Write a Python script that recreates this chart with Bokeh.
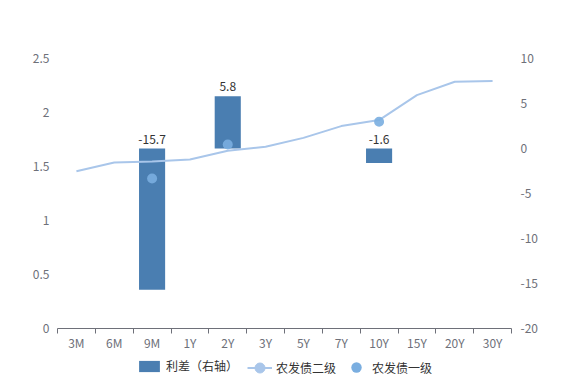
from bokeh.plotting import figure
from bokeh.layouts import column
from bokeh.models import (Range1d, LinearAxis, FixedTicker, ColumnDataSource,
                          Legend, LegendItem)
from bokeh.core.properties import value
from bokeh.embed import file_html
from bokeh.resources import INLINE

# ---- data ----
categories = ["3M", "6M", "9M", "1Y", "2Y", "3Y", "5Y", "7Y", "10Y", "15Y", "20Y", "30Y"]
level2 = [1.456, 1.537, 1.546, 1.565, 1.646, 1.682, 1.765, 1.874, 1.930, 2.161, 2.285, 2.291]
level1_cats = ["9M", "2Y", "10Y"]
level1 = [1.389, 1.704, 1.914]
spread_cats = ["9M", "2Y", "10Y"]
spread = [-15.7, 5.8, -1.6]
left_ticks = [0, 0.5, 1, 1.5, 2, 2.5]
right_ticks = [-20, -15, -10, -5, 0, 5, 10]
series_names = ["利差（右轴）", "农发债二级", "农发债一级"]

FONT = "Noto Sans CJK SC"
AXIS_C = "#6e7079"
TEXT_C = "#333333"
BAR_C = "#4a7eb1"
LINE_C = "#a9c6ea"
DOT_C = "#7aaee0"
NAN = float("nan")

pos = {c: i + 0.5 for i, c in enumerate(categories)}

p = figure(width=561, height=353, output_backend="svg", toolbar_location=None,
           x_range=Range1d(0, len(categories)), y_range=Range1d(0, 2.5),
           min_border_left=57, min_border_right=50, min_border_top=58, min_border_bottom=25)
p.outline_line_color = None
p.xgrid.visible = False
p.ygrid.visible = False
p.extra_y_ranges = {"right": Range1d(-20, 10)}

# x axis
xa = p.xaxis[0]
xa.ticker = FixedTicker(ticks=[pos[c] for c in categories],
                        minor_ticks=list(range(len(categories) + 1)))
xa.major_label_overrides = {pos[c]: c for c in categories}
xa.major_tick_line_color = None
xa.major_tick_in = 0
xa.major_tick_out = 0
xa.minor_tick_in = 0
xa.minor_tick_out = 5
xa.minor_tick_line_color = AXIS_C
xa.axis_line_color = AXIS_C
xa.major_label_standoff = 0
xa.major_label_text_color = AXIS_C
xa.major_label_text_font = FONT
xa.major_label_text_font_size = "12px"

# left axis
ya = p.yaxis[0]
ya.ticker = FixedTicker(ticks=left_ticks)
ya.major_label_overrides = {t: ("%g" % t) for t in left_ticks}
ya.axis_line_color = None
ya.major_tick_line_color = None
ya.minor_tick_line_color = None
ya.major_tick_in = 0
ya.major_tick_out = 0
ya.major_label_standoff = 8
ya.major_label_text_color = AXIS_C
ya.major_label_text_font = FONT
ya.major_label_text_font_size = "12px"

# right axis
ra = LinearAxis(y_range_name="right", ticker=FixedTicker(ticks=right_ticks))
ra.major_label_overrides = {t: ("%d" % t) for t in right_ticks}
ra.axis_line_color = None
ra.major_tick_line_color = None
ra.minor_tick_line_color = None
ra.major_tick_in = 0
ra.major_tick_out = 0
ra.major_label_standoff = 9
ra.major_label_text_color = AXIS_C
ra.major_label_text_font = FONT
ra.major_label_text_font_size = "12px"
p.add_layout(ra, "right")

# bars (spread, right axis)
bar_src = ColumnDataSource(dict(x=[pos[c] for c in spread_cats], top=spread,
                                ly=[max(v, 0) for v in spread],
                                lab=["%g" % v for v in spread]))
p.vbar(x="x", top="top", bottom=0, width=0.69, source=bar_src,
       fill_color=BAR_C, line_color=None, y_range_name="right")
p.text(x="x", y="ly", text="lab", source=bar_src, y_range_name="right",
       text_align="center", text_baseline="bottom", y_offset=-5,
       text_font=value(FONT), text_font_size="12px", text_color=TEXT_C)

# line (level 2)
line_src = ColumnDataSource(dict(x=[pos[c] for c in categories], y=level2))
p.line(x="x", y="y", source=line_src, line_color=LINE_C, line_width=2)

# scatter (level 1)
dot_src = ColumnDataSource(dict(x=[pos[c] for c in level1_cats], y=level1))
p.scatter(x="x", y="y", source=dot_src, size=10, fill_color=DOT_C,
          line_color=None, fill_alpha=0.9)

# ---- legend strip (frame aligned with the main plot's frame) ----
lp = figure(width=561, height=27, output_backend="svg", toolbar_location=None,
            x_range=Range1d(0, 1), y_range=Range1d(0, 1),
            x_axis_location=None, y_axis_location=None,
            min_border_left=0, min_border_right=0, min_border_top=0, min_border_bottom=0)
lp.outline_line_color = None
lp.xgrid.visible = False
lp.ygrid.visible = False

# placeholder renderers (NaN data, nothing drawn) that only provide legend glyphs
lg_bar = lp.vbar(x=[NAN], top=[NAN], width=0.5, fill_color=BAR_C, line_color=None,
                 border_radius=3)
lg_line = lp.line(x=[NAN], y=[NAN], line_color=LINE_C, line_width=2)
lg_line_dot = lp.scatter(x=[NAN], y=[NAN], size=10, fill_color=LINE_C, line_color=LINE_C)
lg_dot = lp.scatter(x=[NAN], y=[NAN], size=10, fill_color=DOT_C, line_color=None)


def mk_legend(label, renderers, gw, gh, loc, standoff):
    lg = Legend(items=[LegendItem(label=label, renderers=renderers)],
                location=loc, orientation="horizontal",
                glyph_width=gw, glyph_height=gh, label_height=gh,
                label_standoff=standoff, padding=0, margin=0, spacing=0,
                border_line_color=None, background_fill_alpha=0,
                label_text_font=FONT, label_text_font_size="12px",
                label_text_color=TEXT_C)
    lp.add_layout(lg, "center")


mk_legend(series_names[0], [lg_bar], 26, 14, (79, 6), 4)
mk_legend(series_names[1], [lg_line, lg_line_dot], 25, 25, (190, 0.5), 4)
mk_legend(series_names[2], [lg_dot], 26, 26, (286, 0), 3)

layout = column(p, lp, spacing=0)
open("out.html", "w").write(file_html(layout, INLINE))
